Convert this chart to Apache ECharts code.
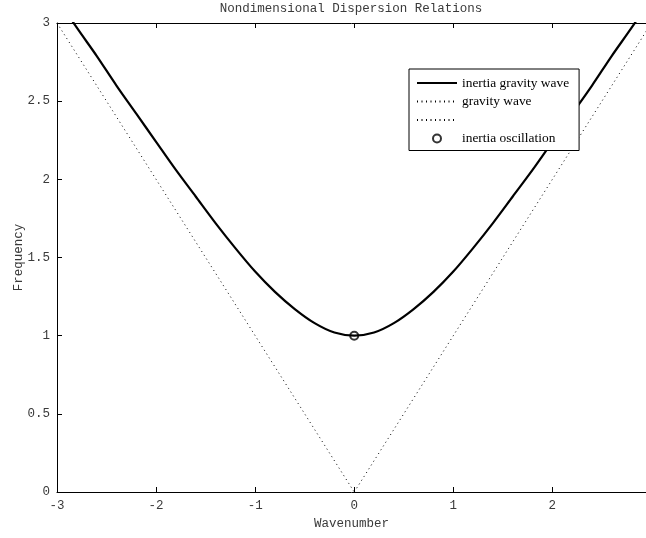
<!DOCTYPE html>
<html>
<head>
<meta charset="utf-8">
<script src="https://cdn.jsdelivr.net/npm/echarts@6/dist/echarts.min.js"></script>
<style>html,body{margin:0;padding:0;background:#fff;}#c{width:646px;height:538px;}</style>
</head>
<body>
<div id="c"></div>
<script>
// Wavenumber samples and values
const wavenumber = [-3.0,-2.8,-2.6,-2.4,-2.2,-2.0,-1.8,-1.6,-1.4,-1.2,-1.0,-0.8,-0.6,-0.4,-0.2,0.0,0.2,0.4,0.6,0.8,1.0,1.2,1.4,1.6,1.8,2.0,2.2,2.4,2.6,2.8,3.0];
const inertiaGravity = [3.16,2.97,2.79,2.60,2.42,2.24,2.06,1.89,1.72,1.56,1.41,1.28,1.17,1.08,1.02,1.00,1.02,1.08,1.17,1.28,1.41,1.56,1.72,1.89,2.06,2.24,2.42,2.60,2.79,2.97,3.16];
const gravityPosK = [0.0, 3.0];
const gravityPosW = [0.0, 3.0];
const gravityNegK = [-3.0, 0.0];
const gravityNegW = [3.0, 0.0];
const inertiaOscK = [0.0];
const inertiaOscW = [1.0];
const seriesNames = ['inertia gravity wave', 'gravity wave', ' ', 'inertia oscillation'];
const xTicks = [-3, -2, -1, 0, 1, 2];
const yTicks = [0, 0.5, 1, 1.5, 2, 2.5, 3];

const zip = (a, b) => a.map((v, i) => [v, b[i]]);
const mono = 'Liberation Mono';
const fs = 12.5;
const txtColor = '#3a3a3a';

const chart = echarts.init(document.getElementById('c'), null, {renderer: 'canvas'});
const xMin = xTicks[0], xMax = 2.945;
const yMin = yTicks[0], yMax = yTicks[yTicks.length - 1];
const dotted = [1, 3.5];

chart.setOption({
  animation: false,
  backgroundColor: '#fff',
  grid: {left: 57, right: 0, top: 23, bottom: 46, containLabel: false, outerBoundsMode: 'none'},
  graphic: [{
    type: 'text', x: 351, y: 9,
    style: {text: 'Nondimensional Dispersion Relations', font: fs + 'px "Liberation Mono"', fill: txtColor,
            align: 'center', verticalAlign: 'middle'}
  }],
  xAxis: [{
    type: 'value', min: xMin, max: xMax, interval: 1,
    name: 'Wavenumber', nameLocation: 'middle', nameGap: 25,
    nameTextStyle: {fontFamily: mono, fontSize: fs, color: txtColor},
    axisLine: {show: true, onZero: false, lineStyle: {color: '#000', width: 1}},
    axisTick: {show: true, inside: true, length: 5, lineStyle: {color: '#000'}},
    axisLabel: {fontFamily: mono, fontSize: fs, color: txtColor, margin: 7, showMaxLabel: false},
    splitLine: {show: false}
  }, {
    type: 'value', position: 'top', min: xMin, max: xMax, interval: 1,
    axisLine: {show: true, onZero: false, lineStyle: {color: '#000', width: 1}},
    axisTick: {show: true, inside: true, length: 5, lineStyle: {color: '#000'}},
    axisLabel: {show: false}, splitLine: {show: false}
  }],
  yAxis: [{
    type: 'value', min: yMin, max: yMax, interval: 0.5,
    name: 'Frequency', nameLocation: 'middle', nameGap: 32, nameMoveOverlap: false,
    nameTextStyle: {fontFamily: mono, fontSize: fs, color: txtColor},
    axisLine: {show: true, onZero: false, lineStyle: {color: '#000', width: 1}},
    axisTick: {show: true, inside: true, length: 5, lineStyle: {color: '#000'}},
    axisLabel: {fontFamily: mono, fontSize: fs, color: txtColor, margin: 7},
    splitLine: {show: false}
  }],
  legend: {
    orient: 'vertical', left: 409, top: 69,
    data: [
      {name: seriesNames[0], itemStyle: {opacity: 0}},
      {name: seriesNames[1], itemStyle: {opacity: 0}},
      {name: seriesNames[2], itemStyle: {opacity: 0}},
      {name: seriesNames[3]}
    ],
    backgroundColor: '#fff', borderColor: '#000', borderWidth: 1, borderRadius: 0,
    padding: [7, 10, 5, 7], itemGap: 4.5, itemWidth: 40, itemHeight: 8,
    textStyle: {fontFamily: 'Liberation Serif', fontSize: 13.4, color: '#000', lineHeight: 14},
    selectedMode: false
  },
  series: [{
    name: seriesNames[0], type: 'line', data: zip(wavenumber, inertiaGravity),
    showSymbol: false, symbol: 'none', smooth: 0.3, clip: true,
    lineStyle: {color: '#000', width: 2.2}, itemStyle: {color: '#000'}
  }, {
    name: seriesNames[1], type: 'line', data: zip(gravityPosK, gravityPosW),
    showSymbol: false, symbol: 'none', clip: true,
    lineStyle: {color: '#000', width: 1, type: dotted}, itemStyle: {color: '#000'}
  }, {
    name: seriesNames[2], type: 'line', data: zip(gravityNegK, gravityNegW),
    showSymbol: false, symbol: 'none', clip: true,
    lineStyle: {color: '#000', width: 1, type: dotted}, itemStyle: {color: '#000'}
  }, {
    name: seriesNames[3], type: 'scatter', data: zip(inertiaOscK, inertiaOscW),
    symbol: 'emptyCircle', symbolSize: 8,
    itemStyle: {color: '#000', borderColor: '#000', borderWidth: 2}
  }]
});
</script>
</body>
</html>
